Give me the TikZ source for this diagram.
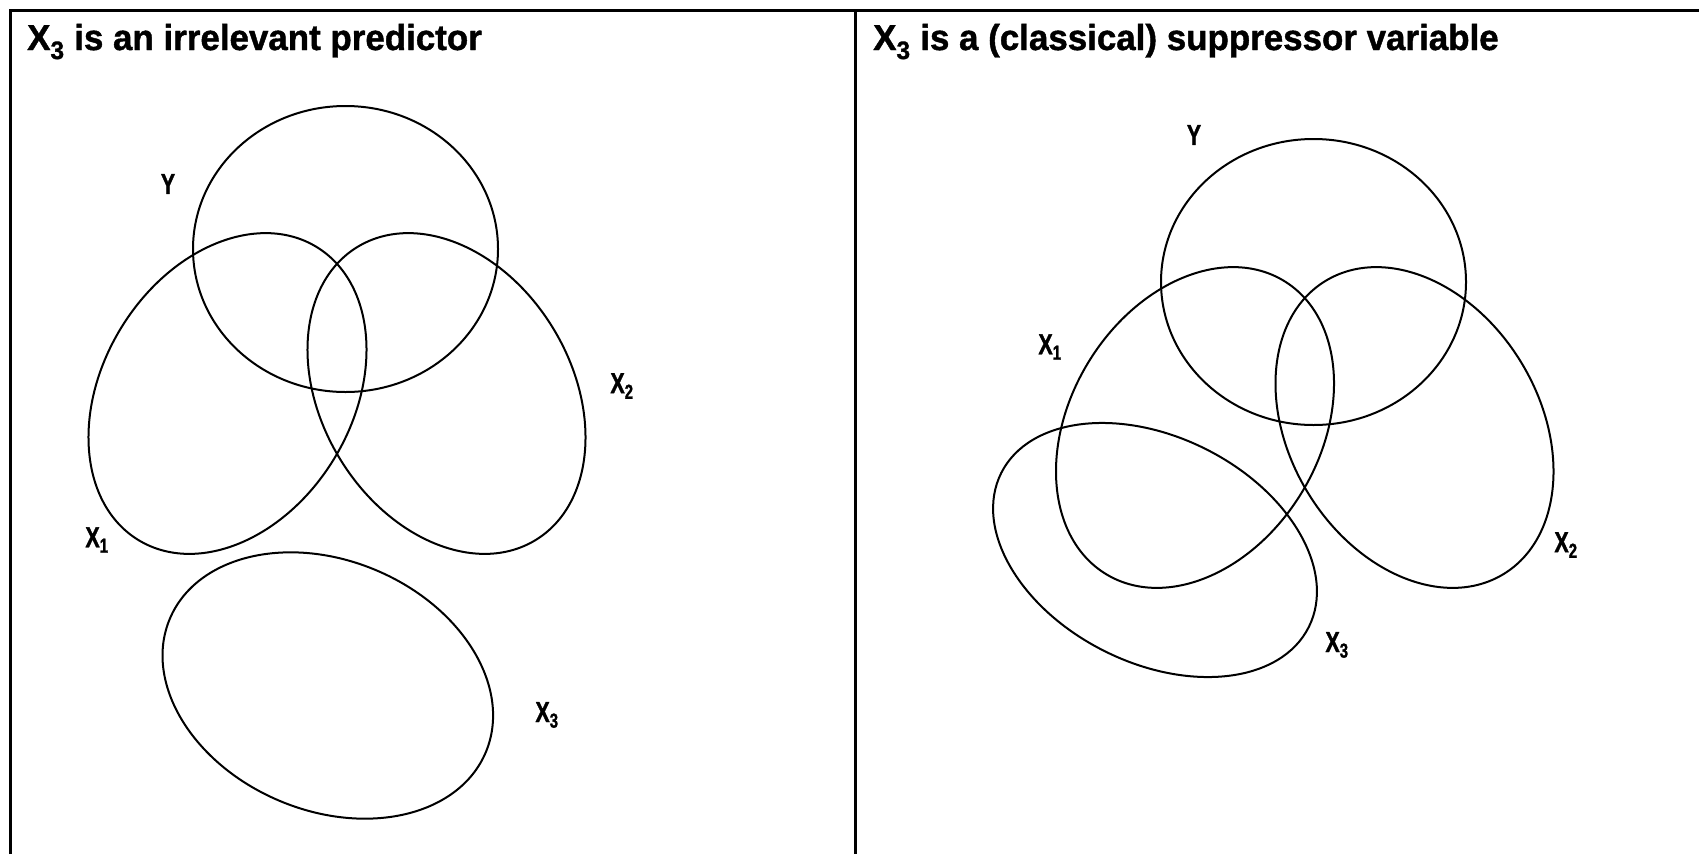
\documentclass[tikz,border=0pt]{standalone}
\usepackage{fontspec}
\setmainfont{Liberation Sans}[FakeStretch=0.74, FakeBold=1.2]
\newfontfamily\titlefont{Liberation Sans}[FakeStretch=0.97, FakeBold=1.2]
\usepackage{tikz}
\usetikzlibrary{positioning}
\tikzset{
  venn/.style={line width=2pt},
  frameline/.style={line width=3pt},
  title/.style={anchor=base west, inner sep=0pt, font=\titlefont\fontsize{36}{40}\selectfont\bfseries},
  setlabel/.style={inner sep=0pt, font=\fontsize{29}{32}\selectfont\bfseries}
}

\begin{document}
\begin{tikzpicture}[x=1pt, y=-1pt]
\useasboundingbox (0,0) rectangle (1699,854);

% Frame
\draw[frameline] (10.5,854) -- (10.5,10.5) -- (1699,10.5);
\draw[frameline] (855.5,10.5) -- (855.5,854);

% Titles
\node[title] (titleL) at (27,50) {X\textsubscript{3} is an irrelevant predictor};
\node[title] (titleR) at (873,50) {X\textsubscript{3} is a (classical) suppressor variable};

% Left panel: irrelevant predictor
\draw[venn] (345.5,249) ellipse [x radius=152.5, y radius=143];
\draw[venn, rotate around={58.8:(227.5,393.5)}] (227.5,393.5) ellipse [x radius=171.5, y radius=125];
\draw[venn, rotate around={-58.8:(446.5,393.5)}] (446.5,393.5) ellipse [x radius=171.5, y radius=125];
\draw[venn, rotate around={-23:(327.8,685.5)}] (327.8,685.5) ellipse [x radius=171.5, y radius=125];

\node[setlabel] (yL) at (168,184) {Y};
\node[setlabel] (x1L) at (97,540) {X\textsubscript{1}};
\node[setlabel] (x2L) at (622,386) {X\textsubscript{2}};
\node[setlabel] (x3L) at (547,715) {X\textsubscript{3}};

% Right panel: suppressor
\draw[venn] (1313.5,282) ellipse [x radius=152.5, y radius=143];
\draw[venn, rotate around={58.8:(1195,427.5)}] (1195,427.5) ellipse [x radius=171.5, y radius=125];
\draw[venn, rotate around={-58.8:(1414.5,427.5)}] (1414.5,427.5) ellipse [x radius=171.5, y radius=125];
\draw[venn, rotate around={-26.6:(1155,550)}] (1155,550) ellipse [x radius=172, y radius=113];

\node[setlabel] (yR) at (1194,135) {Y};
\node[setlabel] (x1R) at (1050,347) {X\textsubscript{1}};
\node[setlabel] (x2R) at (1566,545) {X\textsubscript{2}};
\node[setlabel] (x3R) at (1337,645) {X\textsubscript{3}};
\end{tikzpicture}
\end{document}
